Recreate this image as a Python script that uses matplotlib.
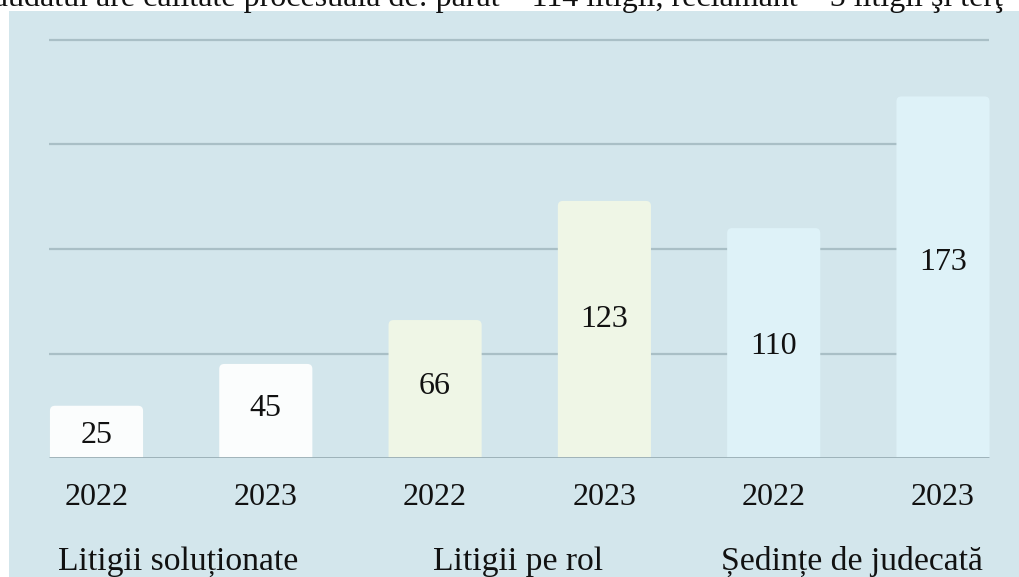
import matplotlib
matplotlib.use("Agg")
import matplotlib.pyplot as plt
from matplotlib.patches import FancyBboxPatch, Rectangle

# ---- data ----
years = ["2022", "2023", "2022", "2023", "2022", "2023"]
values = [25, 45, 66, 123, 110, 173]
categories = ["Litigii soluționate", "Litigii pe rol", "Ședințe de judecată"]
grid_values = [50, 100, 150, 200]
top_text = "dudatul are calitate procesuală de: pârât – 114 litigii, reclamant – 5 litigii şi terţ"

# ---- style ----
bar_colors = ["#fbfdfd", "#fbfdfd", "#eff6e6", "#eff6e6", "#def2f8", "#def2f8"]
label_frac = [0.44, 0.53, 0.515, 0.54, 0.483, 0.542]   # vertical place of value label within bar
panel_color = "#d3e6ec"
grid_color = "#a9bfc6"
base_color = "#98adb4"
serif = ["Liberation Serif", "DejaVu Serif"]

W, H = 1019, 577
fig = plt.figure(figsize=(W / 100, H / 100), dpi=100)
fig.patch.set_facecolor("white")

# background panel
fig.patches.append(Rectangle((9 / W, 0), 1, 1 - 11 / H, transform=fig.transFigure,
                             facecolor=panel_color, edgecolor="none", zorder=-5))

# cut-off text at the very top
fig.text(1003 / W, 1 - 6 / H, top_text, ha="right", va="baseline",
         fontsize=23, family=serif, color="#111111")

# axes geometry (pixels)
px_per_x = 169.3
px_per_y = 2.09
x0_px = 96.5
base_px = 458
ymax = 210
ax_h = ymax * px_per_y
ax = fig.add_axes([0, (H - base_px) / H, 1, ax_h / H])
ax.set_zorder(2)
ax.set_xlim(-x0_px / px_per_x, (W - x0_px) / px_per_x)
ax.set_ylim(0, ymax)
ax.axis("off")
ax.patch.set_alpha(0)

xs = list(range(len(values)))
width = 0.55
grid_left = xs[0] - 0.278
grid_right = xs[-1] + 0.27

ax.hlines(grid_values, grid_left, grid_right, colors=grid_color, lw=1.6, zorder=1)

r = 5 / px_per_x
aspect = px_per_x / px_per_y
for x, v, c, f in zip(xs, values, bar_colors, label_frac):
    p = FancyBboxPatch((x - width / 2, -10), width, v + 10,
                       boxstyle=f"round,pad=0,rounding_size={r}",
                       mutation_aspect=aspect, facecolor=c, edgecolor="none",
                       zorder=2)
    ax.add_patch(p)
    ax.text(x, v * f, str(v), ha="center", va="center", fontsize=23,
            family=serif, color="#111111", zorder=3)

ax.hlines([0], grid_left, grid_right, colors=base_color, lw=2, zorder=3)

# year labels
for x, yl in zip(xs, years):
    ax.text(x, -18.7, yl, ha="center", va="center", fontsize=23, family=serif,
            color="#111111", clip_on=False)

# category labels
cat_offsets = [-0.02, -0.01, -0.04]
for i, (cat, off) in enumerate(zip(categories, cat_offsets)):
    cx = (xs[2 * i] + xs[2 * i + 1]) / 2 + off
    ax.text(cx, -53.6, cat, ha="center", va="baseline", fontsize=24.2,
            family=serif, color="#111111", clip_on=False)

fig.savefig("out.png", dpi=100)
